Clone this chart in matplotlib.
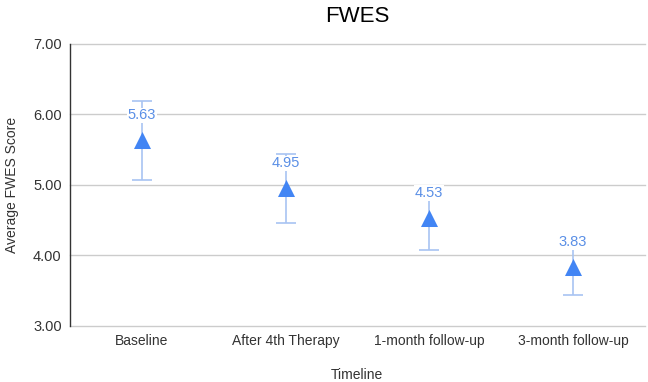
import matplotlib
matplotlib.use("Agg")
import matplotlib.pyplot as plt

plt.rcParams['font.family'] = ['Liberation Sans', 'DejaVu Sans']

categories = ["Baseline", "After 4th Therapy", "1-month follow-up", "3-month follow-up"]
means = [5.63, 4.95, 4.53, 3.83]
errors = [0.56, 0.49, 0.46, 0.39]
yticks = [3.0, 4.0, 5.0, 6.0, 7.0]

fig = plt.figure(figsize=(6.48, 3.82), dpi=100)
ax = fig.add_axes([0.108, 0.147, 0.887, 0.738])

x = list(range(len(categories)))
ax.errorbar(x, means, yerr=errors, fmt='none', ecolor='#a8c4f2', elinewidth=1.2,
            capsize=7, capthick=1.2, zorder=3)
ax.scatter(x, means, marker='^', s=150, color='#4285f4', zorder=4, linewidths=0)
for xi, m in zip(x, means):
    ax.annotate(f"{m:.2f}", (xi, m), xytext=(0, 18), textcoords='offset points',
                ha='center', va='center', color='#5a8fe6', fontsize=10.5,
                bbox=dict(facecolor='white', edgecolor='none', pad=0.5), zorder=5)

ax.set_xlim(-0.5, len(categories) - 0.5)
ax.set_ylim(3.0, 7.0)
ax.set_yticks(yticks)
ax.set_yticklabels([f"{t:.2f}" for t in yticks], fontsize=10.5, color='#333333')
ax.set_xticks(x)
ax.set_xticklabels(categories, fontsize=10, color='#333333')
ax.tick_params(axis='both', length=0, pad=6)
for t in yticks:
    ax.axhline(t, color='#cccccc', linewidth=1, zorder=0, clip_on=False)
for s in ['top', 'right', 'bottom']:
    ax.spines[s].set_visible(False)
ax.spines['left'].set_color('#333333')
ax.spines['left'].set_linewidth(1)
ax.spines['left'].set_zorder(1)

ax.set_title("FWES", fontsize=16, color='#000000', pad=16)
ax.set_xlabel("Timeline", fontsize=10, color='#333333', labelpad=14)
ax.set_ylabel("Average FWES Score", fontsize=10, color='#333333', labelpad=10)

fig.savefig("out.png", dpi=100)
